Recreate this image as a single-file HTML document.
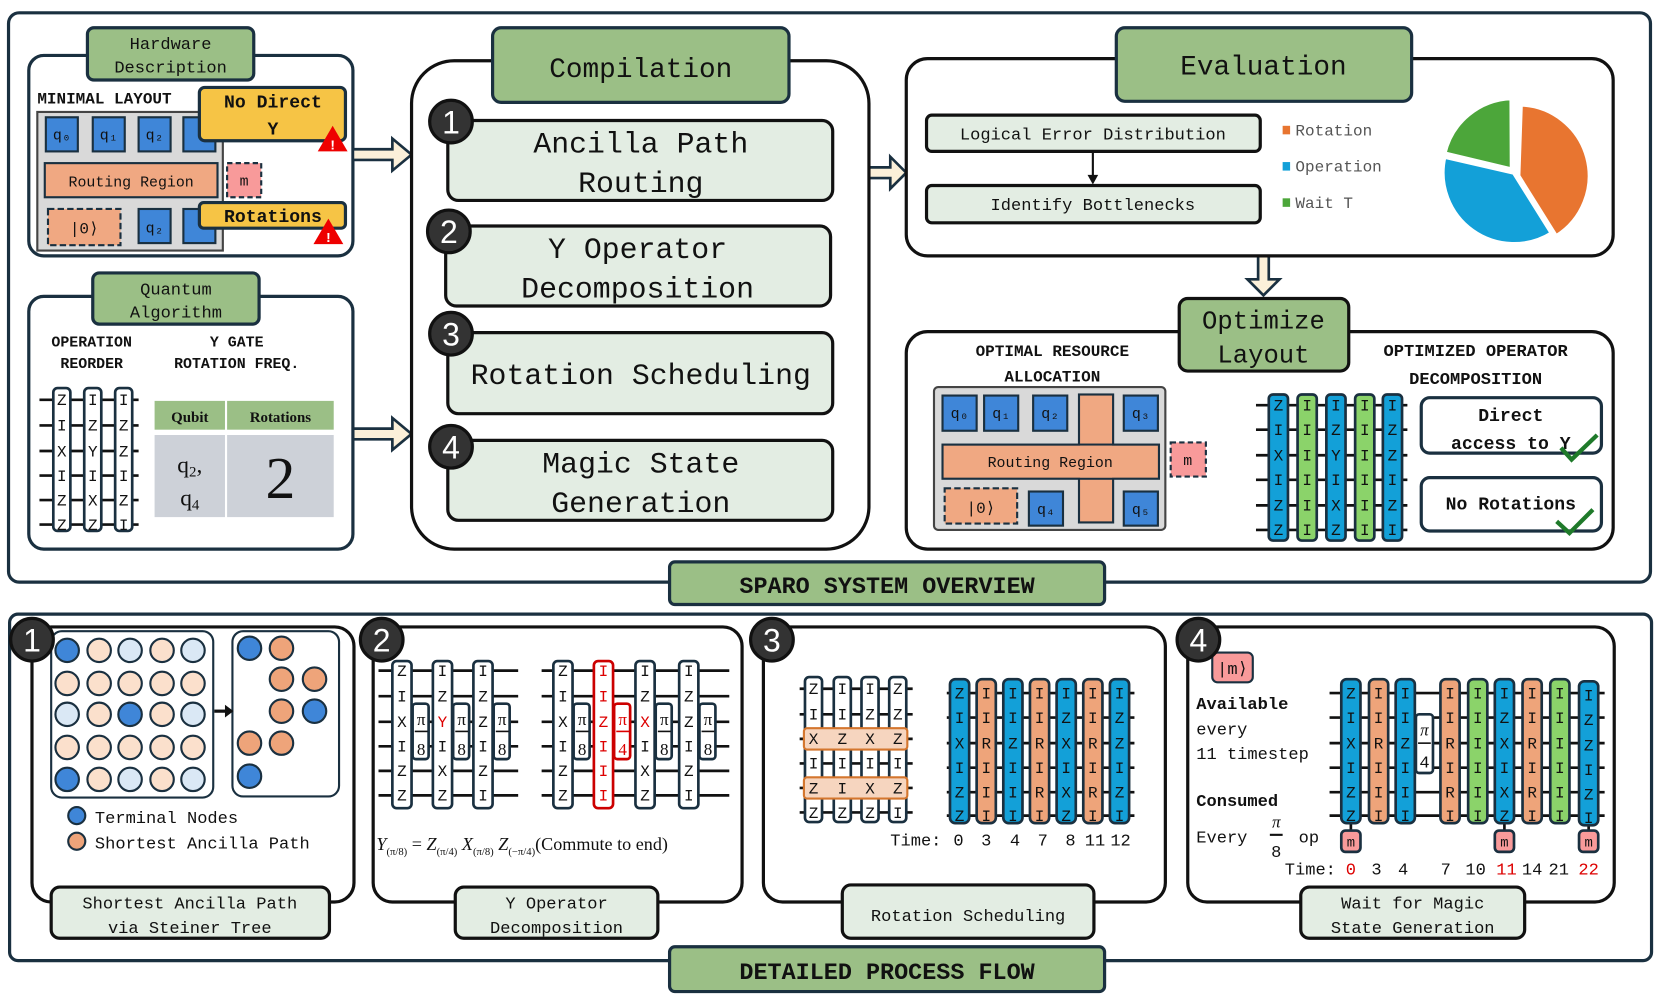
<!DOCTYPE html>
<html><head><meta charset="utf-8"><style>
html,body{margin:0;padding:0;background:#fff;}
svg{display:block}
text{font-family:"Liberation Mono","DejaVu Sans Mono",monospace;fill:#111}
.b{font-weight:bold}
.s{font-family:"Liberation Serif",serif}
</style></head><body>
<svg width="1660" height="997" viewBox="0 0 1660 997" xmlns="http://www.w3.org/2000/svg">
<g transform="scale(1.0662)">
<!-- outer frames -->
<rect x="8" y="12" width="1540" height="534" rx="10" fill="none" stroke="#1a3040" stroke-width="3"/>
<rect x="9" y="576" width="1540" height="325" rx="8" fill="none" stroke="#1a3040" stroke-width="3"/>
<rect x="628" y="527" width="408" height="40" rx="5" fill="#9bbf86" stroke="#1a3040" stroke-width="3"/>
<text x="832" y="556" text-anchor="middle" font-size="22" class="b">SPARO SYSTEM OVERVIEW</text>
<rect x="628" y="888" width="408" height="42" rx="5" fill="#9bbf86" stroke="#1a3040" stroke-width="3"/>
<text x="832" y="918" text-anchor="middle" font-size="22" class="b">DETAILED PROCESS FLOW</text>

<!-- Hardware -->
<rect x="27" y="52" width="304" height="188" rx="14" fill="#fff" stroke="#1a3040" stroke-width="3"/>
<rect x="82" y="26" width="156" height="49" rx="6" fill="#9bbf86" stroke="#1a3040" stroke-width="3"/>
<text x="160" y="46" text-anchor="middle" font-size="16">Hardware</text>
<text x="160" y="68" text-anchor="middle" font-size="16">Description</text>
<text x="35" y="97" font-size="15" class="b">MINIMAL LAYOUT</text>
<rect x="35" y="105" width="174" height="130" fill="#d9d9d9" stroke="#444" stroke-width="2"/>
<g font-size="14" stroke-width="2">
<rect x="43" y="110" width="30" height="32" fill="#3f86d8" stroke="#1a3040"/><text x="58" y="131" text-anchor="middle" font-size="14">q₀</text>
<rect x="87" y="110" width="30" height="32" fill="#3f86d8" stroke="#1a3040"/><text x="102" y="131" text-anchor="middle" font-size="14">q₁</text>
<rect x="130" y="110" width="30" height="32" fill="#3f86d8" stroke="#1a3040"/><text x="145" y="131" text-anchor="middle" font-size="14">q₂</text>
<rect x="172" y="110" width="30" height="32" fill="#3f86d8" stroke="#1a3040"/>
<rect x="42" y="153" width="162" height="32" fill="#f0a882" stroke="#1a3040"/><text x="123" y="175" text-anchor="middle" font-size="14">Routing Region</text>
<rect x="213" y="153" width="32" height="32" fill="#f89a9a" stroke="#1a3040" stroke-dasharray="5,3"/><text x="229" y="174" text-anchor="middle" font-size="14">m</text>
<rect x="45" y="196" width="68" height="34" fill="#f0a882" stroke="#1a3040" stroke-dasharray="6,3"/><text x="79" y="219" text-anchor="middle" font-size="15">|0⟩</text>
<rect x="130" y="196" width="30" height="32" fill="#3f86d8" stroke="#1a3040"/><text x="145" y="218" text-anchor="middle" font-size="14">q₂</text>
<rect x="172" y="196" width="30" height="32" fill="#3f86d8" stroke="#1a3040"/>
</g>
<rect x="187" y="82" width="137" height="50" rx="5" fill="#f6c445" stroke="#1a3040" stroke-width="3"/>
<text x="256" y="101" text-anchor="middle" font-size="17" class="b">No Direct</text>
<text x="256" y="126" text-anchor="middle" font-size="17" class="b">Y</text>
<rect x="187" y="190" width="137" height="24" rx="4" fill="#f6c445" stroke="#1a3040" stroke-width="3"/>
<text x="256" y="208" text-anchor="middle" font-size="17" class="b">Rotations</text>
<polygon points="312,118 326,142 298,142" fill="#e00"/><text x="312" y="140" text-anchor="middle" font-size="13" class="b" style="fill:#fff">!</text>
<polygon points="308,205 322,229 294,229" fill="#e00"/><text x="308" y="227" text-anchor="middle" font-size="13" class="b" style="fill:#fff">!</text>

<!-- arrows -->
<g fill="#fbf0d9" stroke="#1a3040" stroke-width="2.5">
<polygon points="331,140 368,140 368,130 386,145 368,160 368,150 331,150"/>
<polygon points="331,402 368,402 368,392 386,407 368,422 368,412 331,412"/>
<polygon points="815,157 835,157 835,147 850,162 835,177 835,167 815,167"/>
<polygon points="1180,240 1190,240 1190,262 1200,262 1185,277 1170,262 1180,262"/>
</g>

<!-- Quantum algorithm -->
<rect x="27" y="278" width="304" height="237" rx="14" fill="#fff" stroke="#1a3040" stroke-width="3"/>
<rect x="87" y="256" width="156" height="48" rx="6" fill="#9bbf86" stroke="#1a3040" stroke-width="3"/>
<text x="165" y="276" text-anchor="middle" font-size="16">Quantum</text>
<text x="165" y="298" text-anchor="middle" font-size="16">Algorithm</text>
<text x="86" y="325" text-anchor="middle" font-size="14" class="b">OPERATION</text>
<text x="86" y="345" text-anchor="middle" font-size="14" class="b">REORDER</text>
<text x="222" y="325" text-anchor="middle" font-size="14" class="b">Y GATE</text>
<text x="222" y="345" text-anchor="middle" font-size="14" class="b">ROTATION FREQ.</text>
<g stroke="#111" stroke-width="2.5"><line x1="37" y1="375" x2="130" y2="375"/><line x1="37" y1="399" x2="130" y2="399"/><line x1="37" y1="423" x2="130" y2="423"/><line x1="37" y1="446" x2="130" y2="446"/><line x1="37" y1="469" x2="130" y2="469"/><line x1="37" y1="492" x2="130" y2="492"/></g>
<g fill="#fff" stroke="#1a3040" stroke-width="2.5"><rect x="50" y="364" width="16" height="134" rx="4"/><rect x="79" y="364" width="16" height="134" rx="4"/><rect x="108" y="364" width="16" height="134" rx="4"/></g>
<g font-size="15" text-anchor="middle">
<text x="58" y="380">Z</text><text x="58" y="404">I</text><text x="58" y="428">X</text><text x="58" y="451">I</text><text x="58" y="474">Z</text><text x="58" y="497">Z</text>
<text x="87" y="380">I</text><text x="87" y="404">Z</text><text x="87" y="428">Y</text><text x="87" y="451">I</text><text x="87" y="474">X</text><text x="87" y="497">Z</text>
<text x="116" y="380">I</text><text x="116" y="404">Z</text><text x="116" y="428">Z</text><text x="116" y="451">I</text><text x="116" y="474">Z</text><text x="116" y="497">I</text>
</g>
<rect x="145" y="376" width="66" height="27" fill="#9bbf86"/><rect x="213" y="376" width="100" height="27" fill="#9bbf86"/>
<rect x="145" y="408" width="66" height="77" fill="#cdd1d8"/><rect x="213" y="408" width="100" height="77" fill="#cdd1d8"/>
<text x="178" y="396" text-anchor="middle" font-size="14" class="s b">Qubit</text>
<text x="263" y="396" text-anchor="middle" font-size="14" class="s b">Rotations</text>
<text x="178" y="443" text-anchor="middle" font-size="22" class="s">q<tspan font-size="14" dy="4">2</tspan><tspan dy="-4">,</tspan></text>
<text x="178" y="474" text-anchor="middle" font-size="22" class="s">q<tspan font-size="14" dy="4">4</tspan></text>
<text x="263" y="467" text-anchor="middle" font-size="56" class="s">2</text>

<!-- Compilation -->
<rect x="386" y="57" width="429" height="458" rx="40" fill="#fff" stroke="#111" stroke-width="3"/>
<rect x="462" y="26" width="278" height="70" rx="8" fill="#9bbf86" stroke="#1a3040" stroke-width="3"/>
<text x="601" y="72" text-anchor="middle" font-size="26">Compilation</text>
<g fill="#e3ede3" stroke="#111" stroke-width="3">
<rect x="420" y="113" width="361" height="75" rx="10"/>
<rect x="418" y="212" width="361" height="75" rx="10"/>
<rect x="420" y="312" width="361" height="76" rx="10"/>
<rect x="420" y="413" width="361" height="75" rx="10"/>
</g>
<g font-size="28" text-anchor="middle">
<text x="601" y="143">Ancilla Path</text><text x="601" y="180">Routing</text>
<text x="598" y="242">Y Operator</text><text x="598" y="279">Decomposition</text>
<text x="601" y="360">Rotation Scheduling</text>
<text x="601" y="443">Magic State</text><text x="601" y="480">Generation</text>
</g>
<g fill="#333" stroke="#111" stroke-width="3">
<circle cx="423" cy="114" r="20"/><circle cx="421" cy="217" r="20"/><circle cx="423" cy="313" r="20"/><circle cx="423" cy="419" r="20"/>
</g>
<g font-size="30" text-anchor="middle" style="font-family:'Liberation Sans',sans-serif">
<text x="423" y="125" style="fill:#fff;font-family:'Liberation Sans',sans-serif">1</text>
<text x="421" y="228" style="fill:#fff;font-family:'Liberation Sans',sans-serif">2</text>
<text x="423" y="324" style="fill:#fff;font-family:'Liberation Sans',sans-serif">3</text>
<text x="423" y="430" style="fill:#fff;font-family:'Liberation Sans',sans-serif">4</text>
</g>

<!-- Evaluation -->
<rect x="850" y="55" width="663" height="185" rx="20" fill="#fff" stroke="#111" stroke-width="3"/>
<rect x="1047" y="26" width="277" height="69" rx="8" fill="#9bbf86" stroke="#1a3040" stroke-width="3"/>
<text x="1185" y="70" text-anchor="middle" font-size="26">Evaluation</text>
<rect x="869" y="108" width="313" height="34" rx="5" fill="#e3ede3" stroke="#111" stroke-width="3"/>
<text x="1025" y="131" text-anchor="middle" font-size="16">Logical Error Distribution</text>
<line x1="1025" y1="142" x2="1025" y2="165" stroke="#111" stroke-width="2"/><polygon points="1020,164 1030,164 1025,173" fill="#111"/>
<rect x="869" y="174" width="313" height="35" rx="5" fill="#e3ede3" stroke="#111" stroke-width="3"/>
<text x="1025" y="197" text-anchor="middle" font-size="16">Identify Bottlenecks</text>
<rect x="1203" y="118" width="7" height="8" fill="#e87530"/><text x="1215" y="127" font-size="15" style="fill:#555">Rotation</text>
<rect x="1203" y="152" width="7" height="8" fill="#13a0d8"/><text x="1215" y="161" font-size="15" style="fill:#555">Operation</text>
<rect x="1203" y="186" width="7" height="8" fill="#4ca63a"/><text x="1215" y="195" font-size="15" style="fill:#555">Wait T</text>
<g stroke="#fff" stroke-width="4">
<path d="M1424,165 L1426.3,98 A67,67 0 0 1 1459.5,221.8 Z" fill="#e87530"/>
<path d="M1420,162 L1455.5,218.8 A67,67 0 0 1 1354.7,146.9 Z" fill="#13a0d8"/>
<path d="M1418,159 L1354.7,143.9 A67,67 0 0 1 1417.7,92 Z" fill="#4ca63a"/>
</g>

<!-- Optimize layout -->
<rect x="850" y="311" width="663" height="204" rx="20" fill="#fff" stroke="#111" stroke-width="3"/>
<rect x="1106" y="280" width="159" height="68" rx="8" fill="#9bbf86" stroke="#111" stroke-width="3"/>
<text x="1185" y="308" text-anchor="middle" font-size="24">Optimize</text>
<text x="1185" y="340" text-anchor="middle" font-size="24">Layout</text>
<text x="987" y="334" text-anchor="middle" font-size="15" class="b">OPTIMAL RESOURCE</text>
<text x="987" y="358" text-anchor="middle" font-size="15" class="b">ALLOCATION</text>
<text x="1384" y="334" text-anchor="middle" font-size="16" class="b">OPTIMIZED OPERATOR</text>
<text x="1384" y="360" text-anchor="middle" font-size="16" class="b">DECOMPOSITION</text>
<rect x="876" y="363" width="217" height="134" rx="4" fill="#d9d9d9" stroke="#444" stroke-width="2"/>
<g stroke="#1a3040" stroke-width="2">
<rect x="884" y="371" width="32" height="33" fill="#3f86d8"/><rect x="923" y="371" width="32" height="33" fill="#3f86d8"/><rect x="969" y="371" width="32" height="33" fill="#3f86d8"/><rect x="1054" y="371" width="32" height="33" fill="#3f86d8"/>
<rect x="1012" y="370" width="32" height="120" fill="#f0a882"/>
<rect x="884" y="417" width="203" height="32" fill="#f0a882"/>
<rect x="886" y="458" width="68" height="33" fill="#f0a882" stroke-dasharray="6,3"/>
<rect x="965" y="461" width="32" height="32" fill="#3f86d8"/><rect x="1054" y="461" width="32" height="32" fill="#3f86d8"/>
<rect x="1098" y="415" width="33" height="32" fill="#f89a9a" stroke-dasharray="5,3"/>
</g>
<rect x="1013" y="418" width="30" height="30" fill="#f0a882"/>
<g font-size="14" text-anchor="middle">
<text x="900" y="392">q₀</text><text x="939" y="392">q₁</text><text x="985" y="392">q₂</text><text x="1070" y="392">q₃</text>
<text x="985" y="438">Routing Region</text><text x="920" y="481" font-size="15">|0⟩</text>
<text x="981" y="482">q₄</text><text x="1070" y="482">q₅</text><text x="1114" y="436">m</text>
</g>
<g stroke="#111" stroke-width="2.5"><line x1="1178" y1="380" x2="1320" y2="380"/><line x1="1178" y1="403" x2="1320" y2="403"/><line x1="1178" y1="427" x2="1320" y2="427"/><line x1="1178" y1="450" x2="1320" y2="450"/><line x1="1178" y1="474" x2="1320" y2="474"/><line x1="1178" y1="497" x2="1320" y2="497"/></g>
<g stroke="#1a3040" stroke-width="2.5">
<rect x="1190" y="370" width="18" height="137" rx="4" fill="#13a0d8"/><rect x="1217" y="370" width="18" height="137" rx="4" fill="#8bd36a"/><rect x="1244" y="370" width="18" height="137" rx="4" fill="#13a0d8"/><rect x="1271" y="370" width="18" height="137" rx="4" fill="#8bd36a"/><rect x="1297" y="370" width="18" height="137" rx="4" fill="#13a0d8"/>
</g>
<g font-size="15" text-anchor="middle">
<text x="1199" y="385">Z</text><text x="1199" y="408">I</text><text x="1199" y="432">X</text><text x="1199" y="455">I</text><text x="1199" y="479">Z</text><text x="1199" y="502">Z</text>
<text x="1226" y="385">I</text><text x="1226" y="408">I</text><text x="1226" y="432">I</text><text x="1226" y="455">I</text><text x="1226" y="479">I</text><text x="1226" y="502">I</text>
<text x="1253" y="385">I</text><text x="1253" y="408">Z</text><text x="1253" y="432">Y</text><text x="1253" y="455">I</text><text x="1253" y="479">X</text><text x="1253" y="502">Z</text>
<text x="1280" y="385">I</text><text x="1280" y="408">I</text><text x="1280" y="432">I</text><text x="1280" y="455">I</text><text x="1280" y="479">I</text><text x="1280" y="502">I</text>
<text x="1306" y="385">I</text><text x="1306" y="408">Z</text><text x="1306" y="432">Z</text><text x="1306" y="455">I</text><text x="1306" y="479">Z</text><text x="1306" y="502">I</text>
</g>
<rect x="1333" y="373" width="169" height="52" rx="8" fill="#fff" stroke="#1a3040" stroke-width="3"/>
<text x="1417" y="395" text-anchor="middle" font-size="17" class="b">Direct</text>
<text x="1417" y="421" text-anchor="middle" font-size="17" class="b">access to Y</text>
<rect x="1333" y="448" width="169" height="50" rx="8" fill="#fff" stroke="#1a3040" stroke-width="3"/>
<text x="1417" y="478" text-anchor="middle" font-size="17" class="b">No Rotations</text>
<polyline points="1464,420 1474,431 1498,408" fill="none" stroke="#1f7a2a" stroke-width="4"/>
<polyline points="1460,489 1472,500 1494,478" fill="none" stroke="#1f7a2a" stroke-width="4"/>

<!-- Panel 1 -->
<rect x="30" y="588" width="302" height="258" rx="18" fill="#fff" stroke="#111" stroke-width="3"/>
<rect x="48" y="592" width="152" height="156" rx="10" fill="#fff" stroke="#1a3040" stroke-width="2"/>
<rect x="218" y="592" width="100" height="155" rx="10" fill="#fff" stroke="#1a3040" stroke-width="2"/>
<g stroke="#1a3040" stroke-width="2">
<circle cx="63" cy="610" r="11" fill="#3f86d8"/><circle cx="93" cy="610" r="11" fill="#fbe0cc"/><circle cx="122" cy="610" r="11" fill="#dae8f5"/><circle cx="152" cy="610" r="11" fill="#fbe0cc"/><circle cx="181" cy="610" r="11" fill="#dae8f5"/>
<circle cx="63" cy="641" r="11" fill="#fbe0cc"/><circle cx="93" cy="641" r="11" fill="#fbe0cc"/><circle cx="122" cy="641" r="11" fill="#fbe0cc"/><circle cx="152" cy="641" r="11" fill="#fbe0cc"/><circle cx="181" cy="641" r="11" fill="#fbe0cc"/>
<circle cx="63" cy="670" r="11" fill="#dae8f5"/><circle cx="93" cy="670" r="11" fill="#fbe0cc"/><circle cx="122" cy="670" r="11" fill="#3f86d8"/><circle cx="152" cy="670" r="11" fill="#fbe0cc"/><circle cx="181" cy="670" r="11" fill="#dae8f5"/>
<circle cx="63" cy="701" r="11" fill="#fbe0cc"/><circle cx="93" cy="701" r="11" fill="#fbe0cc"/><circle cx="122" cy="701" r="11" fill="#fbe0cc"/><circle cx="152" cy="701" r="11" fill="#fbe0cc"/><circle cx="181" cy="701" r="11" fill="#fbe0cc"/>
<circle cx="63" cy="731" r="11" fill="#3f86d8"/><circle cx="93" cy="731" r="11" fill="#fbe0cc"/><circle cx="122" cy="731" r="11" fill="#dae8f5"/><circle cx="152" cy="731" r="11" fill="#fbe0cc"/><circle cx="181" cy="731" r="11" fill="#dae8f5"/>
<circle cx="234" cy="608" r="11" fill="#3f86d8"/><circle cx="264" cy="608" r="11" fill="#eea47a"/>
<circle cx="264" cy="637" r="11" fill="#eea47a"/><circle cx="295" cy="637" r="11" fill="#eea47a"/>
<circle cx="264" cy="667" r="11" fill="#eea47a"/><circle cx="295" cy="667" r="11" fill="#3f86d8"/>
<circle cx="234" cy="697" r="11" fill="#eea47a"/><circle cx="264" cy="697" r="11" fill="#eea47a"/>
<circle cx="234" cy="728" r="11" fill="#3f86d8"/>
<circle cx="72" cy="765" r="8" fill="#3f86d8"/><circle cx="72" cy="789" r="8" fill="#eea47a"/>
</g>
<line x1="201" y1="667" x2="212" y2="667" stroke="#111" stroke-width="3"/><polygon points="211,661 219,667 211,673" fill="#111"/>
<text x="89" y="772" font-size="16">Terminal Nodes</text>
<text x="89" y="796" font-size="16">Shortest Ancilla Path</text>
<rect x="48" y="832" width="261" height="48" rx="8" fill="#e3ede3" stroke="#111" stroke-width="3"/>
<text x="178" y="852" text-anchor="middle" font-size="16">Shortest Ancilla Path</text>
<text x="178" y="875" text-anchor="middle" font-size="16">via Steiner Tree</text>

<!-- Panel 2 -->
<rect x="350" y="588" width="346" height="258" rx="18" fill="#fff" stroke="#111" stroke-width="3"/>
<g stroke="#111" stroke-width="2.5">
<line x1="355" y1="629" x2="486" y2="629"/><line x1="355" y1="653" x2="486" y2="653"/><line x1="355" y1="677" x2="486" y2="677"/><line x1="355" y1="700" x2="486" y2="700"/><line x1="355" y1="723" x2="486" y2="723"/><line x1="355" y1="746" x2="486" y2="746"/>
<line x1="508" y1="629" x2="684" y2="629"/><line x1="508" y1="653" x2="684" y2="653"/><line x1="508" y1="677" x2="684" y2="677"/><line x1="508" y1="700" x2="684" y2="700"/><line x1="508" y1="723" x2="684" y2="723"/><line x1="508" y1="746" x2="684" y2="746"/>
</g>
<g fill="#fff" stroke="#1a3040" stroke-width="2.5">
<rect x="368" y="620" width="18" height="138" rx="4"/><rect x="406" y="620" width="18" height="138" rx="4"/><rect x="444" y="620" width="18" height="138" rx="4"/>
<rect x="519" y="620" width="18" height="138" rx="4"/><rect x="596" y="620" width="18" height="138" rx="4"/><rect x="637" y="620" width="18" height="138" rx="4"/>
<rect x="387" y="660" width="15" height="52" rx="3"/><rect x="425" y="660" width="15" height="52" rx="3"/><rect x="463" y="660" width="15" height="52" rx="3"/>
<rect x="538" y="660" width="15" height="52" rx="3"/><rect x="615" y="660" width="15" height="52" rx="3"/><rect x="656" y="660" width="15" height="52" rx="3"/>
</g>
<rect x="557" y="620" width="18" height="138" rx="4" fill="#fff" stroke="#c00" stroke-width="2.5"/>
<rect x="576" y="660" width="15" height="52" rx="3" fill="#fff" stroke="#c00" stroke-width="2.5"/>
<g font-size="15" text-anchor="middle">
<text x="377" y="634">Z</text><text x="377" y="658">I</text><text x="377" y="682">X</text><text x="377" y="705">I</text><text x="377" y="728">Z</text><text x="377" y="751">Z</text>
<text x="415" y="634">I</text><text x="415" y="658">Z</text><text x="415" y="682" style="fill:#d00">Y</text><text x="415" y="705">I</text><text x="415" y="728">X</text><text x="415" y="751">Z</text>
<text x="453" y="634">I</text><text x="453" y="658">Z</text><text x="453" y="682">Z</text><text x="453" y="705">I</text><text x="453" y="728">Z</text><text x="453" y="751">I</text>
<text x="528" y="634">Z</text><text x="528" y="658">I</text><text x="528" y="682">X</text><text x="528" y="705">I</text><text x="528" y="728">Z</text><text x="528" y="751">Z</text>
<g style="fill:#d00"><text x="566" y="634" style="fill:#d00">I</text><text x="566" y="658" style="fill:#d00">I</text><text x="566" y="682" style="fill:#d00">Z</text><text x="566" y="705" style="fill:#d00">I</text><text x="566" y="728" style="fill:#d00">I</text><text x="566" y="751" style="fill:#d00">I</text></g>
<text x="605" y="634">I</text><text x="605" y="658">Z</text><text x="605" y="682" style="fill:#d00">X</text><text x="605" y="705">I</text><text x="605" y="728">X</text><text x="605" y="751">Z</text>
<text x="646" y="634">I</text><text x="646" y="658">Z</text><text x="646" y="682">Z</text><text x="646" y="705">I</text><text x="646" y="728">Z</text><text x="646" y="751">I</text>
</g>
<g font-size="16" text-anchor="middle" class="s">
<text x="395" y="680" class="s">π</text><text x="395" y="708" class="s">8</text>
<text x="433" y="680" class="s">π</text><text x="433" y="708" class="s">8</text>
<text x="471" y="680" class="s">π</text><text x="471" y="708" class="s">8</text>
<text x="546" y="680" class="s">π</text><text x="546" y="708" class="s">8</text>
<text x="584" y="680" class="s" style="fill:#d00">π</text><text x="584" y="708" class="s" style="fill:#d00">4</text>
<text x="623" y="680" class="s">π</text><text x="623" y="708" class="s">8</text>
<text x="664" y="680" class="s">π</text><text x="664" y="708" class="s">8</text>
</g>
<g stroke="#111" stroke-width="1.5"><line x1="389" y1="686" x2="401" y2="686"/><line x1="427" y1="686" x2="439" y2="686"/><line x1="465" y1="686" x2="477" y2="686"/><line x1="540" y1="686" x2="552" y2="686"/><line x1="578" y1="686" x2="590" y2="686" stroke="#d00"/><line x1="617" y1="686" x2="629" y2="686"/><line x1="658" y1="686" x2="670" y2="686"/></g>
<text x="353" y="797" font-size="17" class="s"><tspan font-style="italic">Y</tspan><tspan font-size="10" dy="5">(π/8)</tspan><tspan dy="-5"> = </tspan><tspan font-style="italic">Z</tspan><tspan font-size="10" dy="5">(π/4)</tspan><tspan dy="-5"> </tspan><tspan font-style="italic">X</tspan><tspan font-size="10" dy="5">(π/8)</tspan><tspan dy="-5"> </tspan><tspan font-style="italic">Z</tspan><tspan font-size="10" dy="5">(−π/4)</tspan><tspan dy="-5">(Commute to end)</tspan></text>
<rect x="427" y="832" width="190" height="48" rx="8" fill="#e3ede3" stroke="#111" stroke-width="3"/>
<text x="522" y="852" text-anchor="middle" font-size="16">Y Operator</text>
<text x="522" y="875" text-anchor="middle" font-size="16">Decomposition</text>

<!-- Panel 3 -->
<rect x="716" y="588" width="377" height="258" rx="18" fill="#fff" stroke="#111" stroke-width="3"/>
<g stroke="#111" stroke-width="2.5">
<line x1="750" y1="646" x2="856" y2="646"/><line x1="750" y1="670" x2="856" y2="670"/><line x1="750" y1="693" x2="856" y2="693"/><line x1="750" y1="716" x2="856" y2="716"/><line x1="750" y1="739" x2="856" y2="739"/><line x1="750" y1="762" x2="856" y2="762"/>
<line x1="888" y1="650" x2="1064" y2="650"/><line x1="888" y1="673" x2="1064" y2="673"/><line x1="888" y1="697" x2="1064" y2="697"/><line x1="888" y1="720" x2="1064" y2="720"/><line x1="888" y1="743" x2="1064" y2="743"/><line x1="888" y1="765" x2="1064" y2="765"/>
</g>
<g fill="#fff" stroke="#1a3040" stroke-width="2.5">
<rect x="755" y="635" width="16" height="136" rx="4"/><rect x="782" y="635" width="16" height="136" rx="4"/><rect x="808" y="635" width="16" height="136" rx="4"/><rect x="834" y="635" width="16" height="136" rx="4"/>
</g>
<g fill="#f6d5bf" stroke="#d4762e" stroke-width="2"><rect x="754" y="683" width="97" height="20" rx="3"/><rect x="754" y="729" width="97" height="20" rx="3"/></g>
<g font-size="15" text-anchor="middle">
<text x="763" y="651">Z</text><text x="763" y="675">I</text><text x="763" y="698">X</text><text x="763" y="721">I</text><text x="763" y="744">Z</text><text x="763" y="767">Z</text>
<text x="790" y="651">I</text><text x="790" y="675">I</text><text x="790" y="698">Z</text><text x="790" y="721">I</text><text x="790" y="744">I</text><text x="790" y="767">Z</text>
<text x="816" y="651">I</text><text x="816" y="675">Z</text><text x="816" y="698">X</text><text x="816" y="721">I</text><text x="816" y="744">X</text><text x="816" y="767">Z</text>
<text x="842" y="651">Z</text><text x="842" y="675">Z</text><text x="842" y="698">Z</text><text x="842" y="721">I</text><text x="842" y="744">Z</text><text x="842" y="767">I</text>
</g>
<g stroke="#1a3040" stroke-width="2.5">
<rect x="891" y="637" width="18" height="135" rx="5" fill="#13a0d8"/><rect x="916" y="637" width="18" height="135" rx="5" fill="#eea47a"/><rect x="941" y="637" width="18" height="135" rx="5" fill="#13a0d8"/><rect x="966" y="637" width="18" height="135" rx="5" fill="#eea47a"/><rect x="991" y="637" width="18" height="135" rx="5" fill="#13a0d8"/><rect x="1016" y="637" width="18" height="135" rx="5" fill="#eea47a"/><rect x="1041" y="637" width="18" height="135" rx="5" fill="#13a0d8"/>
</g>
<g font-size="15" text-anchor="middle">
<text x="900" y="655">Z</text><text x="900" y="678">I</text><text x="900" y="702">X</text><text x="900" y="725">I</text><text x="900" y="748">Z</text><text x="900" y="770">Z</text>
<text x="925" y="655">I</text><text x="925" y="678">I</text><text x="925" y="702">R</text><text x="925" y="725">I</text><text x="925" y="748">I</text><text x="925" y="770">I</text>
<text x="950" y="655">I</text><text x="950" y="678">I</text><text x="950" y="702">Z</text><text x="950" y="725">I</text><text x="950" y="748">I</text><text x="950" y="770">I</text>
<text x="975" y="655">I</text><text x="975" y="678">I</text><text x="975" y="702">R</text><text x="975" y="725">I</text><text x="975" y="748">R</text><text x="975" y="770">I</text>
<text x="1000" y="655">I</text><text x="1000" y="678">Z</text><text x="1000" y="702">X</text><text x="1000" y="725">I</text><text x="1000" y="748">X</text><text x="1000" y="770">Z</text>
<text x="1025" y="655">I</text><text x="1025" y="678">I</text><text x="1025" y="702">R</text><text x="1025" y="725">I</text><text x="1025" y="748">R</text><text x="1025" y="770">I</text>
<text x="1050" y="655">I</text><text x="1050" y="678">Z</text><text x="1050" y="702">Z</text><text x="1050" y="725">I</text><text x="1050" y="748">Z</text><text x="1050" y="770">I</text>
</g>
<text x="835" y="793" font-size="16">Time:</text>
<g font-size="16" text-anchor="middle"><text x="899" y="793">0</text><text x="925" y="793">3</text><text x="952" y="793">4</text><text x="978" y="793">7</text><text x="1004" y="793">8</text><text x="1027" y="793">11</text><text x="1051" y="793">12</text></g>
<rect x="790" y="830" width="236" height="50" rx="8" fill="#e3ede3" stroke="#111" stroke-width="3"/>
<text x="908" y="864" text-anchor="middle" font-size="16">Rotation Scheduling</text>

<!-- Panel 4 -->
<rect x="1114" y="588" width="400" height="258" rx="18" fill="#fff" stroke="#111" stroke-width="3"/>
<rect x="1137" y="612" width="38" height="28" rx="5" fill="#f89a9a" stroke="#1a3040" stroke-width="2"/>
<text x="1156" y="632" text-anchor="middle" font-size="16">|m⟩</text>
<text x="1122" y="665" font-size="16" class="b">Available</text>
<text x="1122" y="689" font-size="16">every</text>
<text x="1122" y="712" font-size="16">11 timestep</text>
<text x="1122" y="756" font-size="16" class="b">Consumed</text>
<text x="1122" y="790" font-size="16">Every</text>
<text x="1197" y="776" text-anchor="middle" font-size="16" class="s" font-style="italic">π</text>
<line x1="1191" y1="783" x2="1203" y2="783" stroke="#111" stroke-width="2"/>
<text x="1197" y="804" text-anchor="middle" font-size="16">8</text>
<text x="1218" y="790" font-size="16">op</text>
<g stroke="#111" stroke-width="2.5">
<line x1="1247" y1="650" x2="1505" y2="650"/><line x1="1247" y1="673" x2="1505" y2="673"/><line x1="1247" y1="697" x2="1505" y2="697"/><line x1="1247" y1="720" x2="1505" y2="720"/><line x1="1247" y1="743" x2="1505" y2="743"/><line x1="1247" y1="765" x2="1505" y2="765"/>
<line x1="1267" y1="772" x2="1267" y2="780"/><line x1="1411" y1="772" x2="1411" y2="780"/><line x1="1490" y1="772" x2="1490" y2="780"/>
</g>
<g stroke="#1a3040" stroke-width="2.5">
<rect x="1258" y="637" width="18" height="135" rx="5" fill="#13a0d8"/><rect x="1284" y="637" width="18" height="135" rx="5" fill="#eea47a"/><rect x="1309" y="637" width="18" height="135" rx="5" fill="#13a0d8"/>
<rect x="1351" y="637" width="18" height="135" rx="5" fill="#eea47a"/><rect x="1377" y="637" width="18" height="135" rx="5" fill="#8bd36a"/><rect x="1402" y="637" width="18" height="135" rx="5" fill="#13a0d8"/><rect x="1428" y="637" width="18" height="135" rx="5" fill="#eea47a"/><rect x="1454" y="637" width="18" height="135" rx="5" fill="#8bd36a"/><rect x="1481" y="639" width="18" height="135" rx="5" fill="#13a0d8"/>
<rect x="1328" y="670" width="16" height="55" rx="3" fill="#fff"/>
<rect x="1258" y="779" width="18" height="20" rx="4" fill="#f89a9a"/><rect x="1402" y="779" width="18" height="20" rx="4" fill="#f89a9a"/><rect x="1481" y="779" width="18" height="20" rx="4" fill="#f89a9a"/>
</g>
<text x="1336" y="690" text-anchor="middle" font-size="16" class="s" font-style="italic">π</text><line x1="1330" y1="697" x2="1342" y2="697" stroke="#111" stroke-width="1.5"/><text x="1336" y="720" text-anchor="middle" font-size="16">4</text>
<g font-size="15" text-anchor="middle">
<text x="1267" y="655">Z</text><text x="1267" y="678">I</text><text x="1267" y="702">X</text><text x="1267" y="725">I</text><text x="1267" y="748">Z</text><text x="1267" y="770">Z</text>
<text x="1293" y="655">I</text><text x="1293" y="678">I</text><text x="1293" y="702">R</text><text x="1293" y="725">I</text><text x="1293" y="748">I</text><text x="1293" y="770">I</text>
<text x="1318" y="655">I</text><text x="1318" y="678">I</text><text x="1318" y="702">Z</text><text x="1318" y="725">I</text><text x="1318" y="748">I</text><text x="1318" y="770">I</text>
<text x="1360" y="655">I</text><text x="1360" y="678">I</text><text x="1360" y="702">R</text><text x="1360" y="725">I</text><text x="1360" y="748">R</text><text x="1360" y="770">I</text>
<text x="1386" y="655">I</text><text x="1386" y="678">I</text><text x="1386" y="702">I</text><text x="1386" y="725">I</text><text x="1386" y="748">I</text><text x="1386" y="770">I</text>
<text x="1411" y="655">I</text><text x="1411" y="678">Z</text><text x="1411" y="702">X</text><text x="1411" y="725">I</text><text x="1411" y="748">X</text><text x="1411" y="770">Z</text>
<text x="1437" y="655">I</text><text x="1437" y="678">I</text><text x="1437" y="702">R</text><text x="1437" y="725">I</text><text x="1437" y="748">R</text><text x="1437" y="770">I</text>
<text x="1463" y="655">I</text><text x="1463" y="678">I</text><text x="1463" y="702">I</text><text x="1463" y="725">I</text><text x="1463" y="748">I</text><text x="1463" y="770">I</text>
<text x="1490" y="657">I</text><text x="1490" y="680">Z</text><text x="1490" y="704">Z</text><text x="1490" y="727">I</text><text x="1490" y="750">Z</text><text x="1490" y="772">I</text>
<text x="1267" y="794" font-size="13">m</text><text x="1411" y="794" font-size="13">m</text><text x="1490" y="794" font-size="13">m</text>
</g>
<text x="1205" y="820" font-size="16">Time:</text>
<g font-size="16" text-anchor="middle">
<text x="1267" y="820" style="fill:#d00">0</text><text x="1291" y="820">3</text><text x="1316" y="820">4</text><text x="1356" y="820">7</text><text x="1384" y="820">10</text><text x="1413" y="820" style="fill:#d00">11</text><text x="1437" y="820">14</text><text x="1462" y="820">21</text><text x="1490" y="820" style="fill:#d00">22</text>
</g>
<rect x="1220" y="832" width="210" height="48" rx="8" fill="#e3ede3" stroke="#111" stroke-width="3"/>
<text x="1325" y="852" text-anchor="middle" font-size="16">Wait for Magic</text>
<text x="1325" y="875" text-anchor="middle" font-size="16">State Generation</text>

<!-- bottom number circles -->
<g fill="#333" stroke="#111" stroke-width="3">
<circle cx="30" cy="600" r="20"/><circle cx="358" cy="600" r="20"/><circle cx="724" cy="600" r="20"/><circle cx="1124" cy="600" r="20"/>
</g>
<text x="30" y="611" text-anchor="middle" font-size="30" style="fill:#fff;font-family:'Liberation Sans',sans-serif">1</text>
<text x="358" y="611" text-anchor="middle" font-size="30" style="fill:#fff;font-family:'Liberation Sans',sans-serif">2</text>
<text x="724" y="611" text-anchor="middle" font-size="30" style="fill:#fff;font-family:'Liberation Sans',sans-serif">3</text>
<text x="1124" y="611" text-anchor="middle" font-size="30" style="fill:#fff;font-family:'Liberation Sans',sans-serif">4</text>
</g>
</svg>
</body></html>
